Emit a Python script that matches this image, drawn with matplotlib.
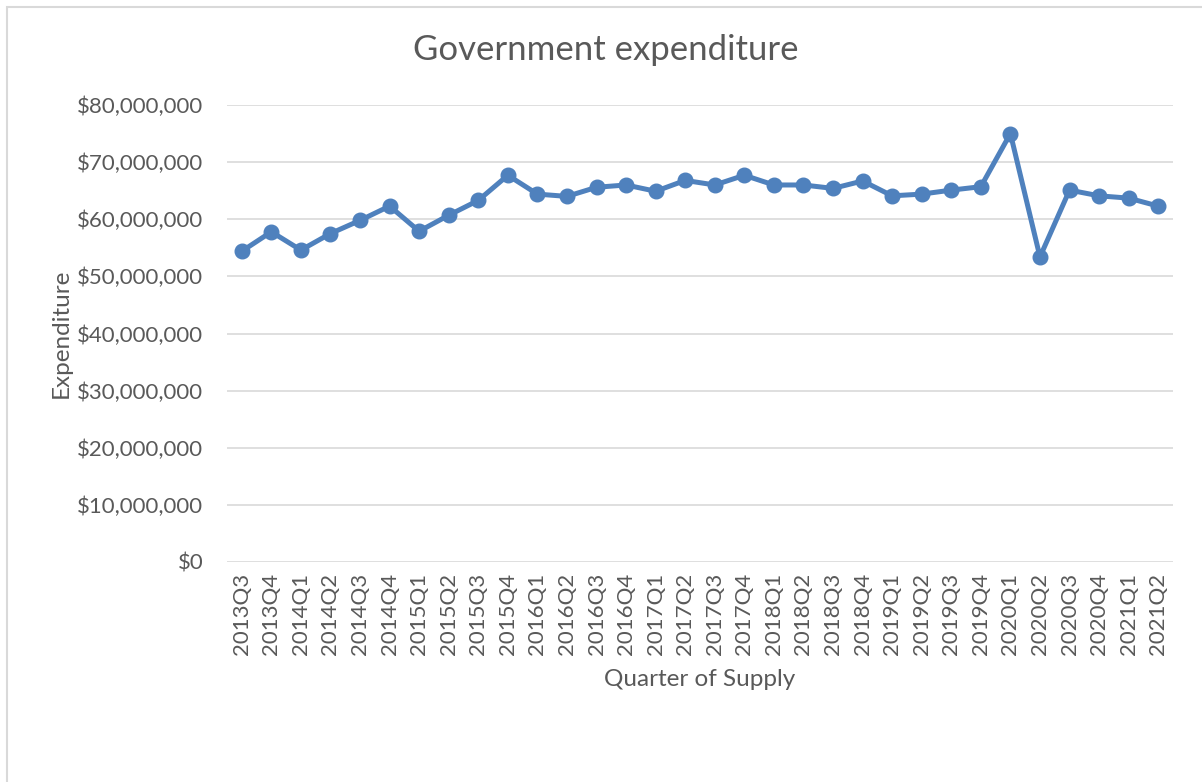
import matplotlib.pyplot as plt
import matplotlib.ticker as tck
from matplotlib.patches import Rectangle

quarters = ['2013Q3', '2013Q4', '2014Q1', '2014Q2', '2014Q3', '2014Q4',
            '2015Q1', '2015Q2', '2015Q3', '2015Q4', '2016Q1', '2016Q2',
            '2016Q3', '2016Q4', '2017Q1', '2017Q2', '2017Q3', '2017Q4',
            '2018Q1', '2018Q2', '2018Q3', '2018Q4', '2019Q1', '2019Q2',
            '2019Q3', '2019Q4', '2020Q1', '2020Q2', '2020Q3', '2020Q4',
            '2021Q1', '2021Q2']

# expenditure in millions of dollars
expenditure = [54.4, 57.8, 54.6, 57.5, 59.8, 62.3,
               57.9, 60.7, 63.3, 67.7, 64.4, 64.0,
               65.6, 66.0, 64.9, 66.8, 66.0, 67.7,
               66.0, 66.0, 65.4, 66.7, 64.1, 64.4,
               65.1, 65.7, 75.0, 53.4, 65.1, 64.1,
               63.7, 62.3]

grey = '#595959'
blue = '#4F81BD'

plt.rcParams['font.family'] = ['Lato', 'DejaVu Sans']

fig = plt.figure(figsize=(12.02, 7.82), dpi=100)
W, H = 1202, 782

# chart border (Excel style)
fig.patches.append(Rectangle((7 / W, -0.1), 1.2, (H - 7) / H + 0.1,
                             transform=fig.transFigure, fill=False,
                             edgecolor='#D9D9D9', lw=1.5))

ax = fig.add_axes([227 / W, 1 - 562 / H, (1173 - 227) / W, (562 - 105) / H])

x = range(len(quarters))
y = [v * 1e6 for v in expenditure]
ax.plot(x, y, color=blue, lw=3.6, marker='o', markersize=10.5,
        solid_joinstyle='round', zorder=3)

ax.set_xlim(-0.5, len(quarters) - 0.5)
ax.set_ylim(0, 80e6)
ax.yaxis.set_major_locator(tck.MultipleLocator(10e6))
ax.yaxis.set_major_formatter(tck.FuncFormatter(lambda v, p: '${:,.0f}'.format(v)))
ax.set_xticks(list(x))
ax.set_xticklabels(quarters, rotation=90)

ax.grid(True, axis='y', color='#D9D9D9', lw=1.2)
ax.set_axisbelow(True)
for s in ax.spines.values():
    s.set_visible(False)
ax.tick_params(length=0, labelsize=16, labelcolor=grey)
ax.tick_params(axis='y', pad=17)
ax.tick_params(axis='x', pad=8)

ax.set_xlabel('Quarter of Supply', fontsize=17.5, color=grey, labelpad=10)
ax.set_ylabel('Expenditure', fontsize=17.5, color=grey, labelpad=4)
fig.text(606 / W, 1 - 50 / H, 'Government expenditure', ha='center',
         va='center', fontsize=25, color=grey)

fig.savefig('out.png', dpi=100)
